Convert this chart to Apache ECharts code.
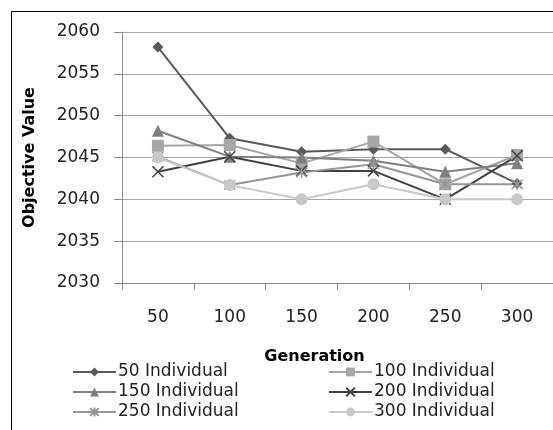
<!DOCTYPE html>
<html>
<head>
<meta charset="utf-8">
<script src="https://cdn.jsdelivr.net/npm/echarts@6/dist/echarts.min.js"></script>
<style>
  html, body { margin: 0; padding: 0; background: #fff; }
  #chart { width: 553px; height: 430px; }
</style>
</head>
<body>
<div id="chart"></div>
<script>
const generations = ['50', '100', '150', '200', '250', '300'];
const ind50 = [2058.2, 2047.3, 2045.7, 2046.0, 2046.0, 2041.9];
const ind100 = [2046.4, 2046.5, 2044.3, 2046.9, 2041.8, 2045.3];
const ind150 = [2048.2, 2045.1, 2045.0, 2044.6, 2043.3, 2044.3];
const ind200 = [2043.3, 2045.1, 2043.4, 2043.4, 2040.0, 2045.2];
const ind250 = [2045.1, 2041.7, 2043.2, 2044.2, 2041.8, 2041.8];
const ind300 = [2045.0, 2041.7, 2040.0, 2041.8, 2040.0, 2040.0];
const yTicks = { min: 2030, max: 2060, interval: 5 };

const FONT = 'DejaVu Sans';
const crossPath = 'path://M0,0L10,10M10,0L0,10';
const starPath = 'path://M0,0L10,10M10,0L0,10M5,-1L5,11';

function line(name, data, color, symbol, size, stroke) {
  return {
    type: 'line', name: name, data: data,
    symbol: symbol, symbolSize: size,
    lineStyle: { color: color, width: 2 },
    itemStyle: stroke
      ? { color: color, borderColor: color, borderWidth: 1.5 }
      : { color: color },
    emphasis: { disabled: true },
    animation: false
  };
}

const legendBase = {
  top: 363, height: 67, padding: 0, orient: 'vertical',
  itemWidth: 43, itemHeight: 11, itemGap: 2,
  textStyle: { fontFamily: FONT, fontSize: 17, lineHeight: 18, color: '#222', padding: [0, 0, 0, -3] }
};

const chart = echarts.init(document.getElementById('chart'));
chart.setOption({
  backgroundColor: '#fff',
  animation: false,
  textStyle: { fontFamily: FONT },
  grid: { left: 122, right: -3, top: 32, bottom: 147 },
  graphic: [
    { type: 'rect', shape: { x: 11.5, y: 11.5, width: 700, height: 700 }, style: { fill: 'none', stroke: '#000', lineWidth: 1 }, silent: true }
  ],
  legend: [
    Object.assign({ left: 72, data: ['50 Individual', '150 Individual', '250 Individual'] }, legendBase),
    Object.assign({ left: 328, data: ['100 Individual', '200 Individual', '300 Individual'] }, legendBase)
  ],
  xAxis: {
    type: 'category', data: generations, boundaryGap: true,
    name: 'Generation', nameLocation: 'middle', nameGap: 66,
    nameTextStyle: { fontFamily: FONT, fontSize: 16, fontWeight: 'bold', color: '#000', padding: [0, 46, 0, 0] },
    axisLine: { lineStyle: { color: '#888', width: 1 } },
    axisTick: { show: true, length: 7, lineStyle: { color: '#888' } },
    axisLabel: { margin: 26, fontSize: 17, color: '#222' }
  },
  yAxis: {
    type: 'value', min: yTicks.min, max: yTicks.max, interval: yTicks.interval,
    name: 'Objective Value', nameLocation: 'middle', nameGap: 84, nameRotate: 90,
    nameTextStyle: { fontFamily: FONT, fontSize: 16, fontWeight: 'bold', color: '#000' },
    axisLine: { show: true, lineStyle: { color: '#888', width: 1 } },
    axisTick: { show: true, length: 8, lineStyle: { color: '#888' } },
    axisLabel: { margin: 22, fontSize: 17, color: '#222', formatter: v => String(v) },
    splitLine: { lineStyle: { color: '#a6a6a6', width: 1 } }
  },
  series: [
    line('50 Individual', ind50, '#595959', 'diamond', 11),
    line('100 Individual', ind100, '#a6a6a6', 'rect', 12),
    line('150 Individual', ind150, '#7f7f7f', 'triangle', 12),
    line('200 Individual', ind200, '#404040', crossPath, 11, true),
    line('250 Individual', ind250, '#969696', starPath, 11, true),
    line('300 Individual', ind300, '#c8c8c8', 'circle', 12)
  ]
});
</script>
</body>
</html>
